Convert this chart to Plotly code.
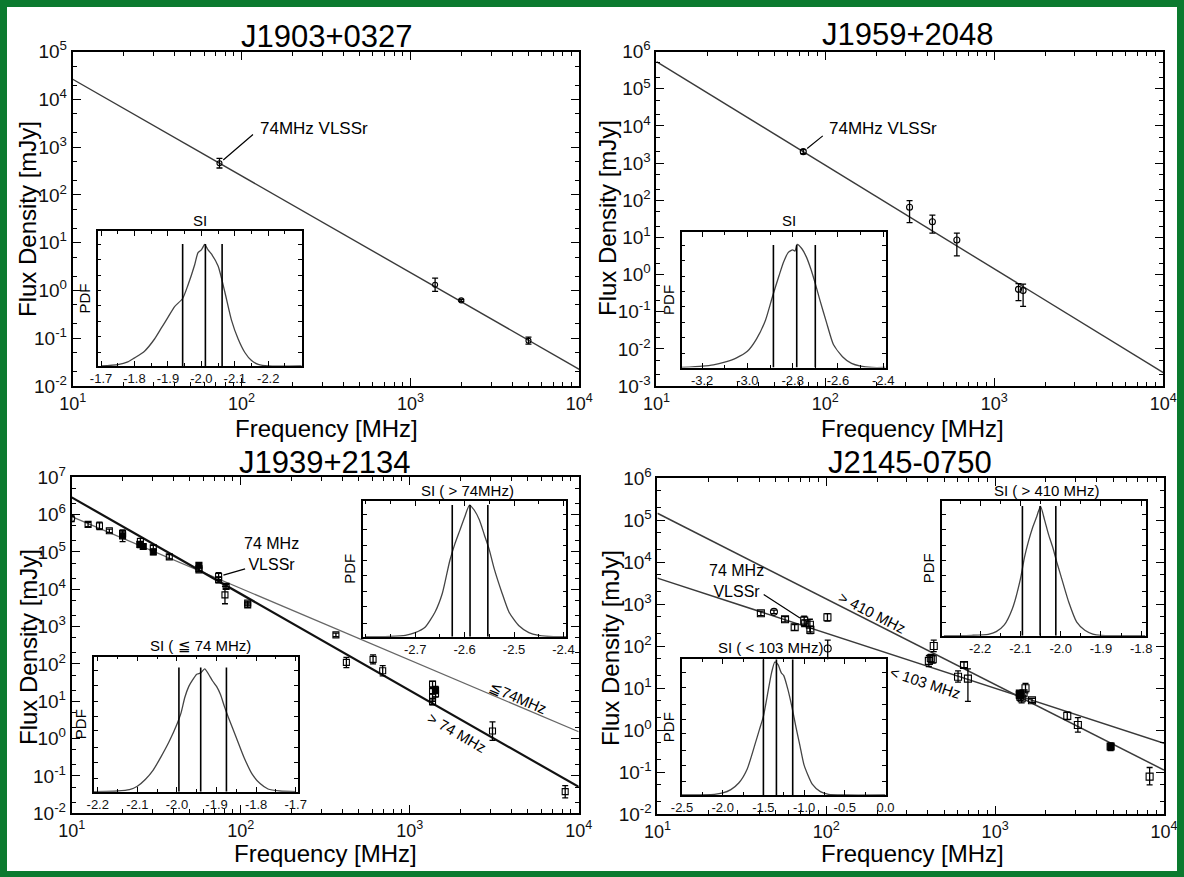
import numpy as np
import plotly.graph_objects as go

W, H = 1184, 877
FONT = "Liberation Sans, Arial, Helvetica, sans-serif"
GREEN = "#0b7a2f"

# ---------------- data ----------------
# J1903+0327
tl_freq = [74, 1400, 2000, 5000]
tl_flux = [462, 1.32, 0.62, 0.089]
tl_lo = [367, 0.96, 0.59, 0.075]
tl_hi = [582, 1.82, 0.65, 0.106]
tl_fit_freq = [10, 10000]
tl_fit_flux = [2.65e4, 0.0224]

# J1959+2048
tr_freq = [74, 315, 430, 600, 1390, 1480]
tr_flux = [2040, 65, 26.5, 8.5, 0.40, 0.37]
tr_lo = [1800, 25, 13, 3.2, 0.20, 0.14]
tr_hi = [2300, 98, 40, 13, 0.57, 0.55]
tr_fit_freq = [10, 10000]
tr_fit_flux = [5.4e5, 2.3e-3]

# J1939+2134
bl_freq = [10, 12.5, 14.6, 16.7, 20, 20, 25.3, 25.5, 26.5, 30.4, 30.4, 37.8,
           56.6, 56.6, 56.6, 74, 74, 80.7, 82, 110, 110, 366, 422, 607, 692,
           1365, 1365, 1365, 1365, 1422, 1422, 3090, 8320]
bl_flux = [7.8e5, 5.5e5, 5.0e5, 3.7e5, 2.7e5, 3.1e5, 1.6e5, 1.9e5, 1.4e5, 1.0e5, 1.3e5, 7.4e4,
           4.4e4, 3.6e4, 3.3e4, 2.2e4, 1.8e4, 7.1e3, 1.2e4, 3.8e3, 4.3e3, 600, 110, 133, 66,
           29, 19, 13, 9.8, 20, 16, 1.6, 0.038]
bl_lo = [6.5e5, 4.8e5, 4.0e5, 3.3e5, 1.9e5, 2.6e5, 1.3e5, 1.6e5, 1.2e5, 8.5e4, 1.1e5, 6.5e4,
         3.8e4, 3.1e4, 2.9e4, 1.7e4, 1.5e4, 4.1e3, 1.05e4, 3.3e3, 3.8e3, 540, 80, 100, 48,
         24, 16, 10, 8, 16, 13, 0.9, 0.026]
bl_hi = [9.2e5, 6.2e5, 6.3e5, 4.1e5, 3.9e5, 3.6e5, 1.9e5, 2.3e5, 1.6e5, 1.2e5, 1.5e5, 8.5e4,
         5.1e4, 4.1e4, 3.8e4, 2.8e4, 2.1e4, 1.2e4, 1.35e4, 4.3e3, 4.8e3, 670, 150, 175, 90,
         34, 22, 16, 12, 25, 19, 2.8, 0.055]
bl_symbol = ["circle-open", "square-open", "square-open", "square-open", "square", "square-open",
             "square", "square-open", "square", "square", "square-open", "square-open",
             "square", "square-open", "square-open", "square-open", "square-open", "square-open",
             "square-open", "square-open", "square-open", "square-open", "square-open",
             "square-open", "square-open", "square-open", "square-open", "square-open",
             "square-open", "square", "square-open", "square-open", "square-open"]
bl_fit_freq = [10, 10000]
bl_fit_high = [2.9e6, 0.051]    # > 74 MHz
bl_fit_low = [8.8e5, 1.53]      # <= 74 MHz

# J2145-0750
br_freq = [41, 49, 57, 65, 74, 75, 80, 80.5, 101.6, 102, 405, 416, 427, 433, 603, 654, 690,
           1400, 1400, 1410, 1436, 1473, 1513, 1653, 2674, 3090, 4830, 8220]
br_flux = [611, 661, 440, 283, 408, 355, 325, 246, 490, 89, 45, 52, 49, 102, 18.9, 36, 17,
           7.5, 6.9, 6.3, 5.8, 7.6, 10, 5.2, 2.2, 1.34, 0.41, 0.079]
br_lo = [540, 600, 380, 240, 310, 300, 220, 200, 400, 38, 33, 42, 40, 75, 14, 31, 4.9,
         6.5, 6.0, 5.2, 4.5, 6.6, 7.8, 4.6, 1.8, 0.9, 0.33, 0.05]
br_hi = [690, 730, 510, 330, 520, 420, 440, 300, 600, 140, 60, 64, 60, 140, 26, 42, 29,
         8.6, 8.0, 7.6, 7.5, 8.7, 13, 5.8, 2.7, 2.0, 0.50, 0.13]
br_symbol = ["square-open", "circle-open", "square-open", "square-open", "square-open",
             "square-open", "square-open", "square-open", "square-open", "circle-open",
             "square-open", "square-open", "square-open", "square-open", "square-open",
             "square-open", "square-open", "square", "square", "square-open", "square-open",
             "square-open", "square-open", "square-open", "square-open", "square-open",
             "square", "square-open"]
br_fit_freq = [10, 10000]
br_fit_high = [1.47e5, 0.113]   # > 410 MHz
br_fit_low = [4.2e3, 0.49]      # < 103 MHz

# Spectral-index posterior PDFs (insets)
i1_si = [-1.70, -1.75, -1.78, -1.80, -1.83, -1.86, -1.88, -1.90, -1.92, -1.944, -1.96, -1.98,
         -1.99, -2.00, -2.01, -2.02, -2.03, -2.05, -2.07, -2.09, -2.11, -2.13, -2.15, -2.17,
         -2.20, -2.30]
i1_pdf = [0.0, 0.01, 0.03, 0.06, 0.11, 0.20, 0.28, 0.36, 0.44, 0.50, 0.60, 0.75,
          0.84, 0.86, 0.90, 0.86, 0.83, 0.74, 0.55, 0.34, 0.20, 0.10, 0.04, 0.012,
          0.0, 0.0]
i1_lines = [-1.944, -2.012, -2.062]

i2_si = [-3.29, -3.20, -3.15, -3.10, -3.05, -3.00, -2.96, -2.92, -2.89, -2.86, -2.84, -2.82,
         -2.80, -2.79, -2.78, -2.76, -2.74, -2.72, -2.70, -2.68, -2.65, -2.62, -2.58, -2.54,
         -2.50, -2.45, -2.39]
i2_pdf = [0.0, 0.01, 0.02, 0.04, 0.07, 0.12, 0.21, 0.35, 0.52, 0.68, 0.78, 0.85,
          0.87, 0.86, 0.91, 0.88, 0.82, 0.73, 0.62, 0.50, 0.33, 0.17, 0.08, 0.03,
          0.01, 0.0, 0.0]
i2_lines = [-2.885, -2.782, -2.70]

i3_si = [-2.21, -2.15, -2.12, -2.10, -2.08, -2.06, -2.04, -2.02, -2.00, -1.99, -1.98, -1.97,
         -1.96, -1.95, -1.94, -1.93, -1.92, -1.91, -1.90, -1.89, -1.88, -1.87, -1.85, -1.83,
         -1.81, -1.79, -1.77, -1.74, -1.70]
i3_pdf = [0.0, 0.005, 0.015, 0.04, 0.09, 0.16, 0.26, 0.37, 0.50, 0.58, 0.70, 0.78,
          0.83, 0.87, 0.88, 0.91, 0.87, 0.82, 0.78, 0.72, 0.63, 0.55, 0.40, 0.25,
          0.13, 0.06, 0.02, 0.005, 0.0]
i3_lines = [-1.995, -1.94, -1.875]

i4_si = [-2.80, -2.75, -2.72, -2.70, -2.68, -2.66, -2.645, -2.63, -2.62, -2.61, -2.60, -2.59,
         -2.58, -2.57, -2.56, -2.55, -2.54, -2.525, -2.51, -2.49, -2.47, -2.45, -2.42, -2.394]
i4_pdf = [0.0, 0.003, 0.01, 0.03, 0.07, 0.18, 0.32, 0.56, 0.68, 0.78, 0.88, 0.97,
          0.93, 0.86, 0.75, 0.64, 0.50, 0.33, 0.18, 0.08, 0.03, 0.01, 0.0, 0.0]
i4_lines = [-2.625, -2.589, -2.553]

i5_si = [-2.29, -2.22, -2.18, -2.16, -2.14, -2.12, -2.10, -2.09, -2.08, -2.07, -2.06, -2.05,
         -2.04, -2.03, -2.02, -2.01, -2.00, -1.98, -1.96, -1.94, -1.92, -1.90, -1.79]
i5_pdf = [0.0, 0.003, 0.01, 0.03, 0.08, 0.20, 0.42, 0.58, 0.70, 0.80, 0.88, 0.96,
          0.86, 0.75, 0.66, 0.55, 0.45, 0.25, 0.10, 0.04, 0.012, 0.003, 0.0]
i5_lines = [-2.095, -2.051, -2.012]

i6_si = [-2.50, -2.10, -2.00, -1.90, -1.80, -1.70, -1.60, -1.55, -1.50, -1.45, -1.40, -1.36,
         -1.32, -1.28, -1.25, -1.20, -1.15, -1.10, -1.05, -1.00, -0.90, -0.80, -0.70, -0.50, 0.0]
i6_pdf = [0.0, 0.005, 0.015, 0.04, 0.09, 0.19, 0.38, 0.48, 0.58, 0.74, 0.90, 0.98,
          0.96, 0.90, 0.88, 0.78, 0.65, 0.50, 0.36, 0.22, 0.08, 0.025, 0.005, 0.0, 0.0]
i6_lines = [-1.50, -1.34, -1.14]

# ---------------- helpers ----------------
def px(x):
    return x / W


def py(y):
    return 1 - y / H


fig = go.Figure()


def add_points(freq, flux, lo, hi, symbols, size, xa, ya):
    fig.add_trace(go.Scatter(
        x=freq, y=flux, mode="markers", xaxis=xa, yaxis=ya, showlegend=False,
        marker=dict(symbol=symbols, size=size, color="black",
                    line=dict(width=1.1, color="black")),
        error_y=dict(type="data", symmetric=False,
                     array=[h - f for h, f in zip(hi, flux)],
                     arrayminus=[f - l for f, l in zip(flux, lo)],
                     color="black", thickness=1.3, width=3)))


def add_line(freq, flux, xa, ya, color, width):
    fig.add_trace(go.Scatter(x=freq, y=flux, mode="lines", xaxis=xa, yaxis=ya,
                             showlegend=False, line=dict(color=color, width=width)))


add_line(tl_fit_freq, tl_fit_flux, "x", "y", "#3a3a3a", 1.4)
add_points(tl_freq, tl_flux, tl_lo, tl_hi, "circle-open", 5, "x", "y")

add_line(tr_fit_freq, tr_fit_flux, "x2", "y2", "#3a3a3a", 1.4)
add_points(tr_freq, tr_flux, tr_lo, tr_hi, "circle-open", 6, "x2", "y2")

add_line(bl_fit_freq, bl_fit_low, "x3", "y3", "#666666", 1.3)
add_line(bl_fit_freq, bl_fit_high, "x3", "y3", "#111111", 2.2)
add_points(bl_freq, bl_flux, bl_lo, bl_hi, bl_symbol, 6, "x3", "y3")

add_line(br_fit_freq, br_fit_high, "x4", "y4", "#3a3a3a", 1.5)
add_line(br_fit_freq, br_fit_low, "x4", "y4", "#3a3a3a", 1.5)
add_points(br_freq, br_flux, br_lo, br_hi, br_symbol, 7, "x4", "y4")

insets = [
    # (id, si, pdf, lines, line_top)
    ("5", i1_si, i1_pdf, i1_lines, 0.904),
    ("6", i2_si, i2_pdf, i2_lines, 0.906),
    ("7", i3_si, i3_pdf, i3_lines, 0.92),
    ("8", i4_si, i4_pdf, i4_lines, 0.97),
    ("9", i5_si, i5_pdf, i5_lines, 0.963),
    ("10", i6_si, i6_pdf, i6_lines, 1.0),
]
for iid, si, pdf, lines, top in insets:
    fig.add_trace(go.Scatter(x=si, y=pdf, mode="lines", xaxis="x" + iid, yaxis="y" + iid,
                             showlegend=False,
                             line=dict(color="#444444", width=1.3, shape="spline", smoothing=0.6)))
    vx, vy = [], []
    for v in lines:
        vx += [v, v, None]
        vy += [0, top, None]
    fig.add_trace(go.Scatter(x=vx, y=vy, mode="lines", xaxis="x" + iid, yaxis="y" + iid,
                             showlegend=False, line=dict(color="black", width=1.6)))

# ---------------- layout ----------------
layout = dict(width=W, height=H, margin=dict(l=0, r=0, t=0, b=0, pad=0, autoexpand=False),
              autosize=False, paper_bgcolor="white", plot_bgcolor="white", showlegend=False,
              font=dict(family=FONT, color="black"))


def sup(n):
    return "10<sup>%d</sup>" % n


main_panels = [
    ("", (72.7, 579.3), (51.7, 386), (-2, 5)),
    ("2", (656.4, 1163.3), (51.7, 386), (-3, 6)),
    ("3", (71.7, 578.7), (477.3, 813.3), (-2, 7)),
    ("4", (657.4, 1164), (478.3, 814.3), (-2, 6)),
]
for pid, (x0, x1), (y0, y1), (ylo, yhi) in main_panels:
    xmin = [m * 10 ** n for n in (1, 2, 3) for m in range(2, 10)]
    ymin = [m * 10.0 ** n for n in range(ylo, yhi) for m in (2, 5)]
    layout["xaxis" + pid] = dict(
        type="log", range=[1, 4], domain=[px(x0), px(x1)], anchor="y" + pid,
        tickmode="array", tickvals=[10, 100, 1000, 10000], ticktext=[sup(n) for n in (1, 2, 3, 4)],
        ticks="inside", ticklen=8, tickwidth=1.3, tickcolor="black",
        showline=True, linecolor="black", linewidth=1.8, mirror="allticks",
        showgrid=False, zeroline=False, tickfont=dict(size=18, color="#111"),
        minor=dict(tickmode="array", tickvals=xmin, ticks="inside", ticklen=4,
                   tickwidth=1.1, tickcolor="black", showgrid=False))
    layout["yaxis" + pid] = dict(
        type="log", range=[ylo, yhi], domain=[py(y1), py(y0)], anchor="x" + pid,
        tickmode="array", tickvals=[10.0 ** n for n in range(ylo, yhi + 1)],
        ticktext=[sup(n) for n in range(ylo, yhi + 1)],
        ticks="inside", ticklen=8, tickwidth=1.3, tickcolor="black",
        showline=True, linecolor="black", linewidth=1.8, mirror="allticks",
        showgrid=False, zeroline=False, tickfont=dict(size=19, color="#111"),
        minor=dict(tickmode="array", tickvals=ymin, ticks="inside", ticklen=4,
                   tickwidth=1.1, tickcolor="black", showgrid=False))

inset_axes = [
    ("5", (97.7, 301.7), (231, 366), [-1.69, -2.30], [-1.7, -1.8, -1.9, -2.0, -2.1, -2.2], 0.05),
    ("6", (681.7, 885.5), (232.3, 367.5), [-3.29, -2.39], [-3.2, -3.0, -2.8, -2.6, -2.4], 0.1),
    ("7", (93.8, 297.7), (656.7, 791.7), [-2.21, -1.695], [-2.2, -2.1, -2.0, -1.9, -1.8, -1.7], 0.05),
    ("8", (362.8, 566.4), (501, 636.7), [-2.806, -2.394], [-2.7, -2.6, -2.5, -2.4], 0.05),
    ("9", (942.3, 1146), (501, 635.7), [-2.294, -1.788], [-2.2, -2.1, -2.0, -1.9, -1.8], 0.05),
    ("10", (682, 885.5), (659.3, 795), [-2.5, 0.0], [-2.5, -2.0, -1.5, -1.0, -0.5, 0.0], 0.25),
]
for iid, (x0, x1), (y0, y1), xr, xt, mdt in inset_axes:
    layout["xaxis" + iid] = dict(
        range=xr, domain=[px(x0), px(x1)], anchor="y" + iid,
        tickmode="array", tickvals=xt, ticktext=["%.1f" % v for v in xt],
        ticks="inside", ticklen=5, tickwidth=1.1, tickcolor="black",
        showline=True, linecolor="black", linewidth=1.5, mirror="allticks",
        showgrid=False, zeroline=False, tickfont=dict(size=13, color="#111"),
        minor=dict(tickmode="linear", tick0=xt[0], dtick=mdt, ticks="inside", ticklen=3,
                   tickwidth=1, tickcolor="black", showgrid=False))
    layout["yaxis" + iid] = dict(
        range=[0, 1], domain=[py(y1), py(y0)], anchor="x" + iid,
        tickmode="array", tickvals=[0.1, 0.22, 0.33, 0.45, 0.56, 0.67, 0.79, 0.9],
        showticklabels=False, ticks="inside", ticklen=4, tickwidth=1.1, tickcolor="black",
        showline=True, linecolor="black", linewidth=1.5, mirror="allticks",
        showgrid=False, zeroline=False,
        title=dict(text="PDF", font=dict(size=15), standoff=2))

fig.update_layout(**layout)

# ---------------- text ----------------
def text(x, y, s, size, angle=0, xanchor="center", yanchor="middle", color="black"):
    fig.add_annotation(x=px(x), y=py(y), xref="paper", yref="paper", text=s, showarrow=False,
                       font=dict(size=size, color=color, family=FONT), textangle=angle,
                       xanchor=xanchor, yanchor=yanchor)


text(327, 36, "J1903+0327", 31)
text(908, 35, "J1959+2048", 31)
text(325, 462, "J1939+2134", 31)
text(910, 462, "J2145-0750", 31)

# axis titles
for xc, yc in [(326, 428), (912, 428), (325, 853), (912, 853)]:
    text(xc, yc, "Frequency [MHz]", 24)
for xc, yc in [(27, 219), (608, 218), (28, 647), (610, 648)]:
    text(xc, yc, "Flux Density [mJy]", 24, angle=-90)

text(200, 220, "SI", 15)
text(789, 220, "SI", 15)
text(200, 645, "SI ( \u2266 74 MHz)", 15)
text(467, 490, "SI ( > 74MHz)", 15)
text(1046, 491, "SI ( > 410 MHz)", 15)
text(770, 647, "SI ( < 103 MHz)", 15)

text(258, 128, "74MHz VLSSr", 17, xanchor="left")
text(827, 129, "74MHz VLSSr", 17, xanchor="left")
text(271, 554, "74 MHz<br>VLSSr", 16)
text(736, 581, "74 MHz<br>VLSSr", 16)

text(518, 697, "\u226674MHz", 15, angle=23)
text(457, 732, "> 74 MHz", 15, angle=30)
text(872, 612, "> 410 MHz", 15, angle=27)
text(925, 682, "< 103 MHz", 15, angle=18)


def pointer(xa, ya, f, s, dx, dy):
    fig.add_annotation(x=np.log10(f), y=np.log10(s), xref=xa, yref=ya, text="",
                       showarrow=True, arrowhead=0, arrowwidth=1.2, arrowcolor="black",
                       ax=dx, ay=dy, standoff=5)


pointer("x", "y", tl_freq[0], tl_flux[0], 35, -30)
pointer("x2", "y2", tr_freq[0], tr_flux[0], 21, -17)
pointer("x3", "y3", bl_freq[15], bl_flux[15], 28, -8)
pointer("x4", "y4", br_freq[4], br_flux[4], -42, -27)

# ---------------- green frame ----------------
for x0, y0, x1, y1 in [(0, 0, W, 7), (0, H - 6, W, H), (0, 0, 7, H), (W - 7, 0, W, H)]:
    fig.add_shape(type="rect", xref="paper", yref="paper", x0=px(x0), x1=px(x1),
                  y0=py(y1), y1=py(y0), fillcolor=GREEN, line=dict(width=0), layer="above")

fig.write_html("out.html", config=dict(displayModeBar=False))
